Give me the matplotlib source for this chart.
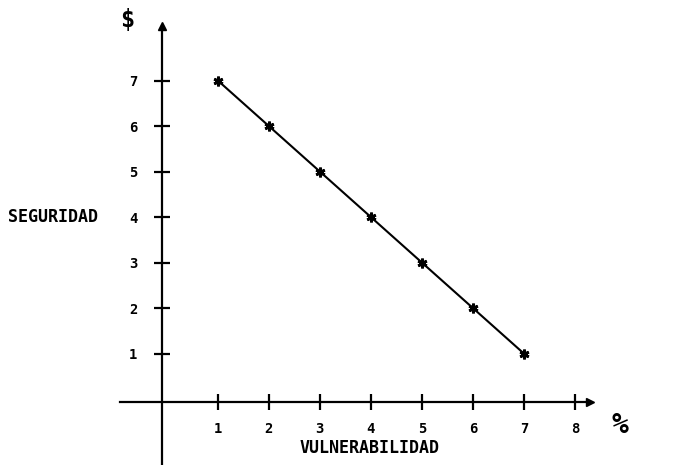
import matplotlib.pyplot as plt

vulnerabilidad = [1, 2, 3, 4, 5, 6, 7]
seguridad = [7, 6, 5, 4, 3, 2, 1]
x_ticks = [1, 2, 3, 4, 5, 6, 7, 8]
y_ticks = [1, 2, 3, 4, 5, 6, 7]

font = 'DejaVu Sans Mono'

fig = plt.figure(figsize=(6.82, 4.65), dpi=100)
ax = fig.add_axes([0, 0, 1, 1])
ax.set_xlim(-3.27, 10.1)
ax.set_ylim(-1.45, 8.77)

# axes as crossing lines with arrows
ax.spines['top'].set_visible(False)
ax.spines['right'].set_visible(False)
ax.spines['left'].set_position(('data', -0.1))
ax.spines['bottom'].set_position(('data', -0.07))
ax.spines['left'].set_bounds(-1.45, 8.2)
ax.spines['bottom'].set_bounds(-0.92, 8.3)
for s in ['left', 'bottom']:
    ax.spines[s].set_linewidth(1.6)
ax.plot(-0.1, 8.2, marker='^', color='black', markersize=6, clip_on=False)
ax.plot(8.3, -0.07, marker='>', color='black', markersize=6, clip_on=False)

ax.set_xticks(x_ticks)
ax.set_yticks(y_ticks)
ax.tick_params(axis='both', direction='inout', length=11, width=1.6, labelsize=10)
ax.tick_params(axis='y', pad=12)
ax.tick_params(axis='x', pad=9)
for lab in ax.get_xticklabels() + ax.get_yticklabels():
    lab.set_fontfamily(font)
    lab.set_fontweight('bold')

ax.plot(vulnerabilidad, seguridad, color='black', linewidth=1.5,
        marker=(6, 2, 0), markersize=7, markeredgewidth=2)

ax.text(-0.77, 8.33, '$', fontsize=17, fontweight='bold', family=font,
        ha='center', va='center')
ax.text(8.88, -0.57, '%', fontsize=20, fontweight='bold', family=font,
        ha='center', va='center')
ax.text(-3.12, 4, 'SEGURIDAD', fontsize=12, fontweight='bold', family=font,
        ha='left', va='center')
ax.text(3.98, -1.08, 'VULNERABILIDAD', fontsize=12, fontweight='bold',
        family=font, ha='center', va='center')

fig.savefig('out.png', dpi=100)
